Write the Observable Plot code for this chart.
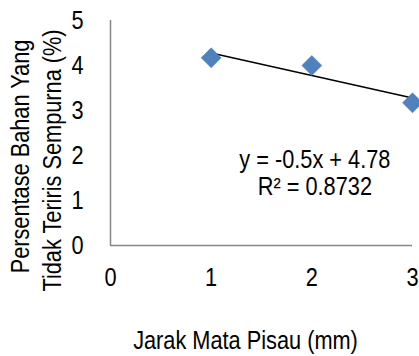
<!DOCTYPE html>
<html>
<head>
<meta charset="utf-8">
<script src="https://cdn.jsdelivr.net/npm/d3@7"></script>
<script src="https://cdn.jsdelivr.net/npm/@observablehq/plot@0.6"></script>
<style>
  html, body { margin: 0; padding: 0; background: #fff; }
</style>
</head>
<body>
<div id="chart"></div>
<script>
const jarak = [1, 2, 3];
const persentase = [4.17, 4.00, 3.17];
const xTicks = [0, 1, 2, 3];
const yTicks = [0, 1, 2, 3, 4, 5];
const xTitle = "Jarak Mata Pisau (mm)";
const yTitle1 = "Persentase Bahan Yang";
const yTitle2 = "Tidak Teriris Sempurna (%)";
const eqText = "y = -0.5x + 4.78";
const r2Text = "R² = 0.8732";

const data = jarak.map((x, i) => ({x, y: persentase[i]}));
const FONT = "'Liberation Sans', Arial, sans-serif";
const FS = 25;
const NARROW = 0.87; // the reference uses a condensed face
const axisColor = "#878787";

const chart = Plot.plot({
  width: 419,
  height: 356,
  marginLeft: 110,
  marginRight: 7,
  marginTop: 20,
  marginBottom: 111,
  style: {fontFamily: FONT, fontSize: FS + "px", color: "#000", background: "#fff"},
  x: {domain: [0, 3]},
  y: {domain: [0, 5]},
  marks: [
    Plot.axisX(xTicks, {tickSize: 0, tickPadding: 23, label: null, fontSize: FS, fill: "#000"}),
    Plot.axisY(yTicks, {tickSize: 0, tickPadding: 27, label: null, fontSize: FS, fill: "#000"}),
    Plot.ruleX([0], {stroke: axisColor, strokeWidth: 1.5}),
    Plot.ruleY([0], {stroke: axisColor, strokeWidth: 1.5}),
    Plot.linearRegressionY(data, {x: "x", y: "y", stroke: "#000", strokeWidth: 1.5, ci: 0}),
    Plot.dot(data, {x: "x", y: "y", symbol: "diamond2", r: 9, fill: "#4F81BD", stroke: "#4A7EBB", strokeWidth: 0.5}),
    Plot.text([eqText], {x: 2.03, y: 1.91, text: d => d, fontSize: FS, lineAnchor: "middle", textAnchor: "middle", fill: "#000"}),
    Plot.text([r2Text], {x: 2.03, y: 1.31, text: d => d, fontSize: FS, lineAnchor: "middle", textAnchor: "middle", fill: "#000"}),
    Plot.text([xTitle], {frameAnchor: "bottom", dx: -16, dy: 95, text: d => d, fontSize: FS, lineAnchor: "middle", textAnchor: "middle", fill: "#000"}),
    Plot.text([yTitle1], {frameAnchor: "left", dx: -90, dy: 23.5, rotate: -90, text: d => d, fontSize: FS, lineAnchor: "middle", textAnchor: "middle", fill: "#000"}),
    Plot.text([yTitle2], {frameAnchor: "left", dx: -58, dy: 27.5, rotate: -90, text: d => d, fontSize: FS, lineAnchor: "middle", textAnchor: "middle", fill: "#000"})
  ]
});

// emulate the condensed typeface of the reference: squeeze each text along its own direction
chart.querySelectorAll("text").forEach(t => {
  const tr = t.getAttribute("transform");
  if (tr) {
    t.setAttribute("transform", tr + ` scale(${NARROW},1)`);
  } else {
    const x = +t.getAttribute("x") || 0, y = +t.getAttribute("y") || 0;
    t.removeAttribute("x"); t.removeAttribute("y");
    t.setAttribute("transform", `translate(${x},${y}) scale(${NARROW},1)`);
  }
});

document.getElementById("chart").appendChild(chart);
</script>
</body>
</html>
